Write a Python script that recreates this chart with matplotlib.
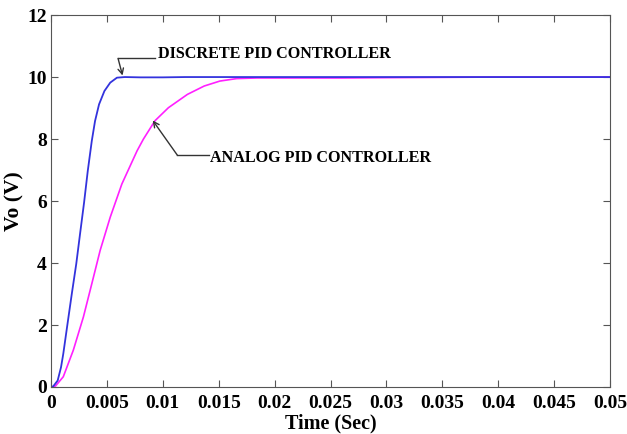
import matplotlib
matplotlib.use('Agg')
import matplotlib.pyplot as plt

# Datos
t_discrete = [0, 0.0002, 0.0006, 0.0009, 0.0011, 0.00146, 0.00186, 0.00226, 0.0026,
              0.00296, 0.00329, 0.00365, 0.00394, 0.0043, 0.00478, 0.0053, 0.0059,
              0.0066, 0.008, 0.01, 0.012, 0.015, 0.02, 0.025, 0.03, 0.035, 0.04, 0.045, 0.05]
v_discrete = [0, 0.02, 0.21, 0.64, 1.07, 1.99, 3.0, 3.97, 4.94,
              5.95, 6.97, 7.94, 8.58, 9.12, 9.55, 9.82, 9.98,
              10.0, 9.99, 9.99, 10.0, 10.0, 10.0, 10.0, 10.0, 10.0, 10.0, 10.0, 10.0]

t_analog = [0, 0.0004, 0.0011, 0.002, 0.0029, 0.00365, 0.0044, 0.0053, 0.00634,
            0.0077, 0.00827, 0.0093, 0.0105, 0.0122, 0.0137, 0.0151, 0.0166, 0.0184,
            0.022, 0.026, 0.03, 0.035, 0.04, 0.05]
v_analog = [0, 0.03, 0.33, 1.19, 2.26, 3.33, 4.41, 5.48, 6.55,
            7.62, 8.0, 8.59, 9.01, 9.44, 9.71, 9.87, 9.95, 9.97,
            9.97, 9.97, 9.98, 9.99, 10.0, 10.0]

x_ticks = [0, 0.005, 0.01, 0.015, 0.02, 0.025, 0.03, 0.035, 0.04, 0.045, 0.05]
x_tick_labels = ['0', '0.005', '0.01', '0.015', '0.02', '0.025', '0.03', '0.035', '0.04', '0.045', '0.05']
y_ticks = [0, 2, 4, 6, 8, 10, 12]

plt.rcParams['font.family'] = ['Liberation Serif', 'DejaVu Serif']
plt.rcParams['font.weight'] = 'bold'

fig = plt.figure(figsize=(6.27, 4.34), dpi=100)
ax = fig.add_axes([0.0813, 0.1083, 0.8917, 0.857])

ax.plot(t_analog, v_analog, color='#ff20ff', linewidth=1.2)
ax.plot(t_discrete, v_discrete, color='#3333dd', linewidth=1.3)

ax.set_xlim(0, 0.05)
ax.set_ylim(0, 12)
ax.set_xticks(x_ticks)
ax.set_xticklabels(x_tick_labels)
ax.set_yticks(y_ticks)
ax.tick_params(direction='in', top=True, right=True, labelsize=14, length=5,
               color='#555555')
ax.tick_params(axis='x', pad=6)
ax.tick_params(axis='y', pad=3)
for lbl in ax.get_xticklabels() + ax.get_yticklabels():
    lbl.set_fontweight('bold')
for s in ax.spines.values():
    s.set_color('#555555')
    s.set_linewidth(0.8)

ax.set_xlabel('Time (Sec)', fontsize=14.5, fontweight='bold', labelpad=1)
ax.set_ylabel('Vo (V)', fontsize=15.5, fontweight='bold', labelpad=2)

# Anotaciones con flecha y tramo horizontal
arrow = dict(arrowstyle='->', color='#333333', lw=1.0, shrinkA=0, shrinkB=0)
ax.plot([0.006, 0.0093], [10.6, 10.6], color='#333333', lw=1.0)
ax.annotate('', xy=(0.0064, 10.05), xytext=(0.006, 10.6), arrowprops=arrow)
ax.text(0.0096, 10.75, 'DISCRETE PID CONTROLLER', fontsize=11.6, fontweight='bold',
        va='center', ha='left')

ax.plot([0.0113, 0.0141], [7.48, 7.48], color='#333333', lw=1.0)
ax.annotate('', xy=(0.0091, 8.6), xytext=(0.0113, 7.48), arrowprops=arrow)
ax.text(0.0142, 7.4, 'ANALOG PID CONTROLLER', fontsize=11.6, fontweight='bold',
        va='center', ha='left')

fig.savefig('out.png', dpi=100)
